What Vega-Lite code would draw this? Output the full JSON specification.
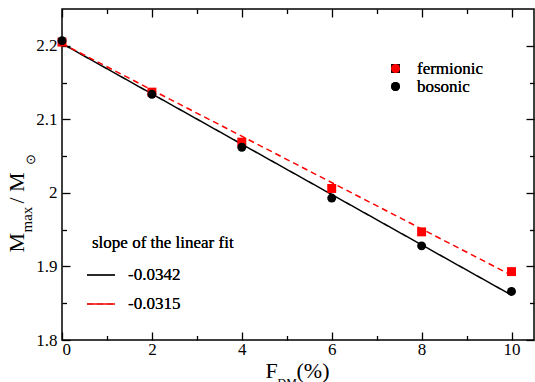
{
  "$schema": "https://vega.github.io/schema/vega-lite/v6.json",
  "width": 472,
  "height": 331,
  "padding": {"left": 62, "top": 9, "right": 1, "bottom": 42},
  "autosize": {"type": "none"},
  "background": "white",
  "config": {
    "font": "Liberation Serif",
    "view": {"stroke": "black", "strokeWidth": 1.5},
    "axis": {
      "grid": false,
      "domain": false,
      "tickColor": "black",
      "tickWidth": 1.3,
      "labelColor": "black",
      "labelFont": "Liberation Serif",
      "labelFontSize": 17,
      "titleFont": "Liberation Serif",
      "titleFontWeight": "normal",
      "titleColor": "black"
    },
    "legend": {
      "labelFont": "Liberation Serif",
      "labelFontSize": 17,
      "labelColor": "black",
      "titleFont": "Liberation Serif",
      "titleFontWeight": "normal",
      "titleColor": "black"
    }
  },
  "datasets": {
    "masses": [
      {"F": 0, "M": 2.205, "type": "fermionic"},
      {"F": 2, "M": 2.137, "type": "fermionic"},
      {"F": 4, "M": 2.069, "type": "fermionic"},
      {"F": 6, "M": 2.006, "type": "fermionic"},
      {"F": 8, "M": 1.947, "type": "fermionic"},
      {"F": 10, "M": 1.893, "type": "fermionic"},
      {"F": 0, "M": 2.207, "type": "bosonic"},
      {"F": 2, "M": 2.134, "type": "bosonic"},
      {"F": 4, "M": 2.062, "type": "bosonic"},
      {"F": 6, "M": 1.993, "type": "bosonic"},
      {"F": 8, "M": 1.928, "type": "bosonic"},
      {"F": 10, "M": 1.866, "type": "bosonic"}
    ],
    "fits": [
      {"F": 0, "M": 2.203, "fit": "-0.0342"},
      {"F": 10, "M": 1.861, "fit": "-0.0342"},
      {"F": 0, "M": 2.203, "fit": "-0.0315"},
      {"F": 10, "M": 1.888, "fit": "-0.0315"}
    ]
  },
  "layer": [
    {
      "data": {"name": "fits"},
      "mark": {"type": "line", "strokeWidth": 1.5},
      "encoding": {
        "x": {
          "field": "F", "type": "quantitative",
          "scale": {"domain": [0, 10.5], "nice": false, "zero": false},
          "axis": {
            "orient": "top", "title": null, "labels": false,
            "values": [0, 1, 2, 3, 4, 5, 6, 7, 8, 9, 10],
            "tickSize": {"condition": {"test": "datum.value % 2 === 0", "value": -8}, "value": -4.5}
          }
        },
        "y": {
          "field": "M", "type": "quantitative",
          "scale": {"domain": [1.8, 2.25], "nice": false, "zero": false},
          "axis": {
            "orient": "right", "title": null, "labels": false,
            "values": [1.8, 1.85, 1.9, 1.95, 2.0, 2.05, 2.1, 2.15, 2.2],
            "tickSize": {"condition": {"test": "round(datum.value * 20) % 2 === 0", "value": -8}, "value": -4.5}
          }
        },
        "color": {
          "field": "fit", "type": "nominal",
          "scale": {"domain": ["-0.0342", "-0.0315"], "range": ["black", "red"]},
          "legend": {
            "title": "slope of the linear fit", "orient": "none",
            "legendX": 30, "legendY": 226,
            "symbolType": "stroke", "symbolSize": 784, "symbolStrokeWidth": 1.5,
            "symbolOffset": -6,
            "titleFont": "Liberation Serif", "titleFontWeight": "normal", "titleColor": "black",
            "labelFont": "Liberation Serif", "labelColor": "black", "labelFontSize": 17,
            "titleFontSize": 17, "rowPadding": 6, "labelOffset": 12, "titlePadding": 8
          }
        },
        "strokeDash": {
          "field": "fit", "type": "nominal",
          "scale": {"domain": ["-0.0342", "-0.0315"], "range": [[1, 0], [6, 4]]},
          "legend": {
            "title": "slope of the linear fit", "orient": "none",
            "legendX": 30, "legendY": 226,
            "symbolType": "stroke", "symbolSize": 784, "symbolStrokeWidth": 1.5,
            "symbolOffset": -6,
            "titleFont": "Liberation Serif", "titleFontWeight": "normal", "titleColor": "black",
            "labelFont": "Liberation Serif", "labelColor": "black", "labelFontSize": 17,
            "titleFontSize": 17, "rowPadding": 6, "labelOffset": 12, "titlePadding": 8
          }
        }
      }
    },
    {
      "data": {"name": "masses"},
      "mark": {"type": "point", "filled": true, "opacity": 1},
      "encoding": {
        "x": {
          "field": "F", "type": "quantitative",
          "scale": {"domain": [0, 10.5], "nice": false, "zero": false},
          "axis": {
            "orient": "bottom",
            "values": [0, 1, 2, 3, 4, 5, 6, 7, 8, 9, 10],
            "labelExpr": "datum.value % 2 === 0 ? datum.label : ''",
            "tickSize": {"condition": {"test": "datum.value % 2 === 0", "value": -8}, "value": -4.5},
            "labelPadding": 9,
            "title": "F", "titleFontSize": 22, "titleX": 203, "titleY": 37.5,
            "titleAlign": "left", "titleBaseline": "alphabetic"
          }
        },
        "y": {
          "field": "M", "type": "quantitative",
          "scale": {"domain": [1.8, 2.25], "nice": false, "zero": false},
          "axis": {
            "orient": "left",
            "values": [1.8, 1.85, 1.9, 1.95, 2.0, 2.05, 2.1, 2.15, 2.2],
            "labelExpr": "round(datum.value * 20) % 2 === 0 ? format(datum.value, '~g') : ''",
            "tickSize": {"condition": {"test": "round(datum.value * 20) % 2 === 0", "value": -8}, "value": -4.5},
            "labelPadding": 13,
            "title": "M", "titleFontSize": 22, "titleAngle": 270, "titleX": -39, "titleY": 243,
            "titleAlign": "left", "titleBaseline": "alphabetic"
          }
        },
        "shape": {
          "field": "type", "type": "nominal",
          "scale": {"domain": ["fermionic", "bosonic"], "range": ["square", "circle"]},
          "legend": {
            "title": null, "orient": "none", "legendX": 325, "legendY": 51,
            "labelFont": "Liberation Serif", "labelColor": "black", "labelFontSize": 17,
            "symbolSize": 80, "labelOffset": 13, "rowPadding": 0
          }
        },
        "color": {
          "field": "type", "type": "nominal",
          "scale": {"domain": ["fermionic", "bosonic"], "range": ["red", "black"]},
          "legend": {
            "title": null, "orient": "none", "legendX": 325, "legendY": 51,
            "labelFont": "Liberation Serif", "labelColor": "black", "labelFontSize": 17,
            "symbolSize": 80, "labelOffset": 13, "rowPadding": 0
          }
        },
        "size": {"value": 80}
      }
    },
    {
      "data": {"name": "fits"},
      "mark": {"type": "point", "opacity": 0},
      "encoding": {
        "x": {
          "field": "F", "type": "quantitative",
          "scale": {"domain": [0, 10.5], "nice": false, "zero": false},
          "axis": {
            "orient": "bottom", "ticks": false, "labels": false,
            "title": "DM", "titleFontSize": 12, "titleX": 215, "titleY": 46.5,
            "titleAlign": "left", "titleBaseline": "alphabetic"
          }
        },
        "y": {
          "field": "M", "type": "quantitative",
          "scale": {"domain": [1.8, 2.25], "nice": false, "zero": false},
          "axis": {
            "orient": "left", "ticks": false, "labels": false,
            "title": "max", "titleFontSize": 15, "titleAngle": 270, "titleX": -31, "titleY": 223,
            "titleAlign": "left", "titleBaseline": "alphabetic"
          }
        }
      }
    },
    {
      "data": {"name": "fits"},
      "mark": {"type": "point", "opacity": 0},
      "encoding": {
        "x": {
          "field": "F", "type": "quantitative",
          "scale": {"domain": [0, 10.5], "nice": false, "zero": false},
          "axis": {
            "orient": "bottom", "ticks": false, "labels": false,
            "title": "(%)", "titleFontSize": 22, "titleX": 234, "titleY": 37.5,
            "titleAlign": "left", "titleBaseline": "alphabetic"
          }
        },
        "y": {
          "field": "M", "type": "quantitative",
          "scale": {"domain": [1.8, 2.25], "nice": false, "zero": false},
          "axis": {
            "orient": "left", "ticks": false, "labels": false,
            "title": "/ M", "titleFontSize": 22, "titleAngle": 270, "titleX": -39, "titleY": 194,
            "titleAlign": "left", "titleBaseline": "alphabetic"
          }
        }
      }
    },
    {
      "data": {"name": "fits"},
      "mark": {"type": "point", "opacity": 0},
      "encoding": {
        "x": {
          "field": "F", "type": "quantitative",
          "scale": {"domain": [0, 10.5], "nice": false, "zero": false},
          "axis": null
        },
        "y": {
          "field": "M", "type": "quantitative",
          "scale": {"domain": [1.8, 2.25], "nice": false, "zero": false},
          "axis": {
            "orient": "left", "ticks": false, "labels": false,
            "title": "⊙", "titleFontSize": 13, "titleAngle": 270, "titleX": -28, "titleY": 155,
            "titleAlign": "left", "titleBaseline": "alphabetic"
          }
        }
      }
    }
  ],
  "resolve": {
    "scale": {"color": "independent"},
    "axis": {"x": "independent", "y": "independent"},
    "legend": {"color": "independent"}
  }
}
